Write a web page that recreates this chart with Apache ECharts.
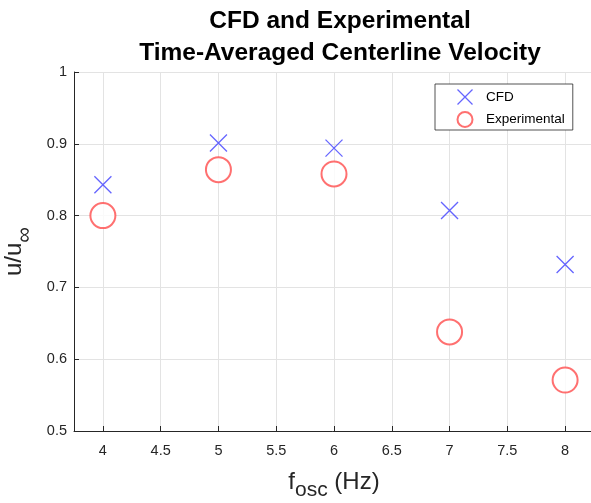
<!DOCTYPE html>
<html><head><meta charset="utf-8">
<script src="https://cdn.jsdelivr.net/npm/echarts@6/dist/echarts.min.js"></script>
<style>html,body{margin:0;padding:0;background:#fff}#c{width:591px;height:503px}</style>
</head><body><div id="c"></div>
<script>
const freqs = [4, 5, 6, 7, 8];
const cfd = [0.843, 0.901, 0.894, 0.807, 0.732];
const experimental = [0.800, 0.864, 0.858, 0.638, 0.571];
const xTicks = [4, 4.5, 5, 5.5, 6, 6.5, 7, 7.5, 8];

const chart = echarts.init(document.getElementById('c'));
const font = 'Liberation Sans, Arial, Helvetica, sans-serif';
const crossPath = 'path://M0,0L10,10M10,0L0,10';
chart.setOption({
  animation: false,
  backgroundColor: '#fff',
  textStyle: { fontFamily: font },
  title: {
    text: 'CFD and Experimental\nTime-Averaged Centerline Velocity',
    left: 335, top: 0, textAlign: 'center',
    textStyle: { fontFamily: font, fontWeight: 'bold', fontSize: 24.5, color: '#000', lineHeight: 32 }
  },
  grid: { left: 74, top: 72, width: 520, height: 359, containLabel: false, outerBoundsMode: 'none' },
  legend: {
    orient: 'vertical', left: 435, top: 84,
    padding: [3, 8, 2, 20], itemGap: 4, itemWidth: 20, itemHeight: 15,
    borderColor: '#262626', borderWidth: 0.8, backgroundColor: '#fff',
    textStyle: { fontFamily: font, fontSize: 13.5, color: '#000', padding: [0, 0, 0, 6] },
    data: [
      { name: 'CFD', icon: crossPath, itemStyle: { color: 'none', borderColor: '#3f3fff', borderWidth: 1.3 } },
      { name: 'Experimental', icon: 'emptyCircle', itemStyle: { color: '#ff4c4c', borderColor: '#ff4c4c', borderWidth: 1.3 } }
    ]
  },
  xAxis: {
    type: 'value', min: 3.75, max: 8.25,
    axisLine: { show: true, onZero: false, lineStyle: { color: '#262626', width: 1 } },
    axisTick: { show: true, inside: true, length: 5, customValues: xTicks, lineStyle: { color: '#262626' } },
    axisLabel: { customValues: xTicks, color: '#262626', fontSize: 14.5, fontFamily: font, margin: 12 },
    splitLine: { show: true, lineStyle: { color: '#e3e3e3', width: 1 } },
    name: '{f|f}{s|osc}{f| (Hz)}', nameLocation: 'middle', nameGap: 33,
    nameTextStyle: { rich: {
      f: { fontSize: 24, color: '#262626', fontFamily: font },
      s: { fontSize: 21, color: '#262626', fontFamily: font, padding: [16, 0, 0, 0] }
    } }
  },
  yAxis: {
    type: 'value', min: 0.5, max: 1, interval: 0.1,
    axisLine: { show: true, lineStyle: { color: '#262626', width: 1 } },
    axisTick: { show: true, inside: true, length: 5, lineStyle: { color: '#262626' } },
    axisLabel: { color: '#262626', fontSize: 14.5, fontFamily: font, margin: 7,
      formatter: v => (Math.round(v * 10) / 10).toString() },
    splitLine: { show: true, lineStyle: { color: '#e3e3e3', width: 1 } },
    name: '{f|u/u}{s|∞}', nameLocation: 'middle', nameGap: 35, nameRotate: 90,
    nameTextStyle: { rich: {
      f: { fontSize: 24, color: '#262626', fontFamily: font },
      s: { fontSize: 22, color: '#262626', fontFamily: font, padding: [22, 0, 0, 0] }
    } }
  },
  series: [
    { name: 'CFD', type: 'scatter', data: freqs.map((f, i) => [f, cfd[i]]),
      symbol: crossPath, symbolSize: 17,
      itemStyle: { color: 'none', borderColor: '#3f3fff', borderWidth: 1.3 } },
    { name: 'Experimental', type: 'scatter', data: freqs.map((f, i) => [f, experimental[i]]),
      symbol: 'emptyCircle', symbolSize: 25,
      itemStyle: { color: '#ff4c4c', borderColor: '#ff4c4c', borderWidth: 1.3 } }
  ]
});
</script></body></html>
